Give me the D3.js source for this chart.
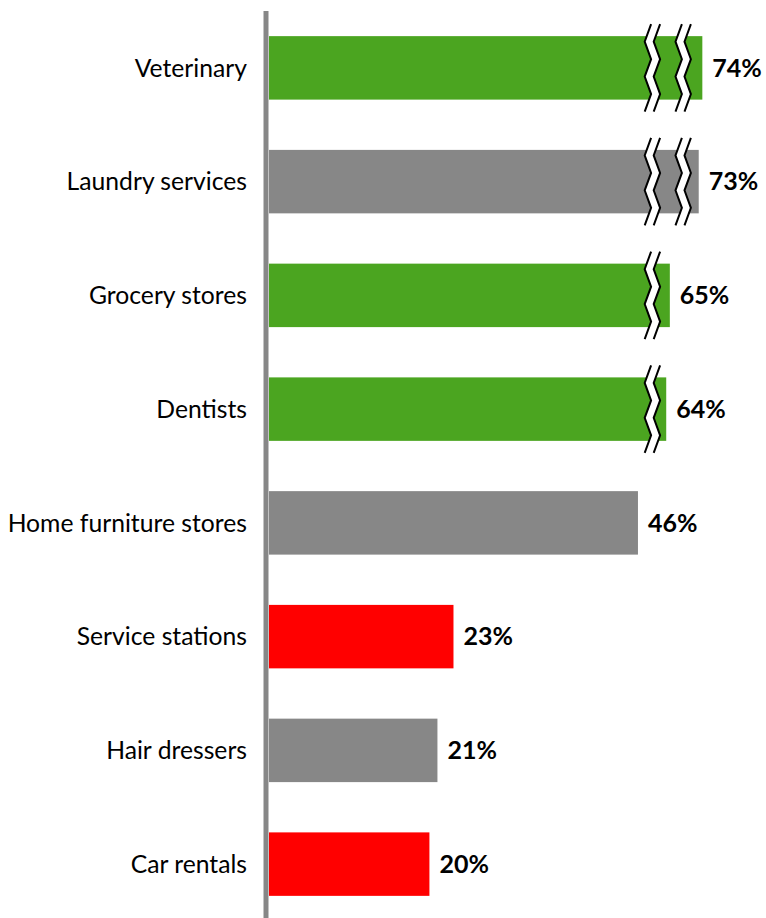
<!DOCTYPE html>
<html>
<head>
<meta charset="utf-8">
<script src="https://cdn.jsdelivr.net/npm/d3@7/dist/d3.min.js"></script>
<style>
  html, body { margin: 0; padding: 0; background: #fff; }
  svg { display: block; }
</style>
</head>
<body>
<svg id="chart" width="766" height="918"></svg>
<script>
// Share of respondents by business type
const categories = ["Veterinary", "Laundry services", "Grocery stores", "Dentists",
                    "Home furniture stores", "Service stations", "Hair dressers", "Car rentals"];
const values = [74, 73, 65, 64, 46, 23, 21, 20];
const groups = ["high", "neutral", "high", "high", "neutral", "low", "neutral", "low"];
const valueLabels = values.map(v => v + "%");
// Axis breaks (in value units): bars longer than a break get a cut mark there
const breaks = [47.8, 68.7];

const colors = { high: "#4ba520", neutral: "#878787", low: "#ff0000" };

const svg = d3.select("#chart");
const W = 766, H = 918;
const x0 = 269;

// Broken value axis: linear up to the first cut, compressed after it
const x = d3.scaleLinear()
  .domain([0, 48, 62, 80])
  .range([x0, x0 + 385, x0 + 390, x0 + 455]);

const y = d3.scaleBand()
  .domain(categories)
  .range([11, 921])
  .paddingInner(0.442)
  .paddingOuter(0.221);

const data = categories.map((c, i) => ({ c, v: values[i], g: groups[i], label: valueLabels[i] }));

// Bars
svg.append("g").selectAll("rect")
  .data(data)
  .join("rect")
  .attr("x", x(0))
  .attr("y", d => y(d.c))
  .attr("width", d => x(d.v) - x(0))
  .attr("height", y.bandwidth())
  .attr("fill", d => colors[d.g]);

// Zigzag cut marks across long bars
const ext = 12, amp = 3.2, gap = 9;
function zigzag(cx, top, bottom) {
  const pts = [];
  const n = 5;
  const step = (bottom - top) / n;
  for (let k = 0; k <= n; k++) {
    pts.push([cx + (k % 2 === 0 ? amp : -amp), top + k * step]);
  }
  return pts;
}
const line = d3.line();
const breakMarks = [];
data.forEach(d => {
  breaks.forEach(b => {
    if (d.v > b) breakMarks.push({ cx: x(b), top: y(d.c) - ext, bottom: y(d.c) + y.bandwidth() + ext });
  });
});
const bg = svg.append("g");
breakMarks.forEach(m => {
  const left = zigzag(m.cx - gap / 2, m.top, m.bottom);
  const right = zigzag(m.cx + gap / 2, m.top, m.bottom);
  const poly = left.concat(right.slice().reverse());
  bg.append("path").attr("d", line(poly) + "Z").attr("fill", "#fff");
  bg.append("path").attr("d", line(left)).attr("fill", "none").attr("stroke", "#000").attr("stroke-width", 2);
  bg.append("path").attr("d", line(right)).attr("fill", "none").attr("stroke", "#000").attr("stroke-width", 2);
});

// Category axis line
svg.append("line")
  .attr("x1", 266).attr("x2", 266)
  .attr("y1", 11).attr("y2", H)
  .attr("stroke", "#878787").attr("stroke-width", 5);

// Category labels
svg.append("g").selectAll("text")
  .data(data)
  .join("text")
  .attr("x", 247)
  .attr("y", d => y(d.c) + y.bandwidth() / 2)
  .attr("dy", "0.35em")
  .attr("text-anchor", "end")
  .attr("font-family", "Lato, 'Open Sans', sans-serif")
  .attr("font-size", 24.7)
  .attr("fill", "#000")
  .text(d => d.c);

// Value labels
svg.append("g").selectAll("text")
  .data(data)
  .join("text")
  .attr("x", d => x(d.v) + 10)
  .attr("y", d => y(d.c) + y.bandwidth() / 2)
  .attr("dy", "0.35em")
  .attr("font-family", "Lato, 'Open Sans', sans-serif")
  .attr("font-weight", "bold")
  .attr("font-size", 25)
  .attr("fill", "#000")
  .text(d => d.label);
</script>
</body>
</html>
